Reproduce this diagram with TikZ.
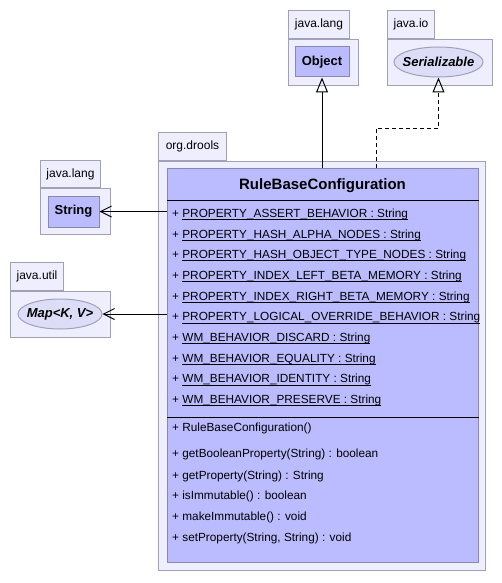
\documentclass[tikz,border=0pt]{standalone}
\usepackage{fontspec}
\setmainfont{Liberation Sans}
\usetikzlibrary{arrows.meta,shapes.geometric}
\definecolor{pkgfill}{RGB}{238,238,255}
\definecolor{pkgline}{RGB}{160,160,184}
\definecolor{clsfill}{RGB}{187,187,255}
\definecolor{clsline}{RGB}{136,136,176}
\definecolor{ifcfill}{RGB}{221,221,248}
\newcommand\statline[1]{\setbox0=\hbox{#1}\rlap{\rule[-2.7pt]{\wd0}{1pt}}\box0}
\tikzset{
  pkgbox/.style={draw=pkgline, fill=pkgfill, line width=1pt, inner sep=0, anchor=north west},
  pkgtab/.style={pkgbox, font=\fontsize{12}{14}\selectfont},
  clsbox/.style={draw=clsline, fill=clsfill, line width=1pt, inner sep=0, font=\bfseries\fontsize{13}{15}\selectfont},
  ifcbox/.style={ellipse, draw=pkgline, fill=ifcfill, line width=1pt, inner sep=0},
  ifctext/.style={font=\bfseries\itshape\fontsize{13}{15}\selectfont},
  member/.style={anchor=base west, inner sep=0, font=\fontsize{11.8}{14}\selectfont},
  extends/.style={-{Triangle[open,length=15pt,width=12pt]}, line width=1pt},
  uses/.style={-{Straight Barb[length=11pt,width=11pt]}, line width=1pt},
}
\begin{document}
\begin{tikzpicture}[x=1pt,y=-1pt]
    \useasboundingbox (0,0) rectangle (502,583);
    % packages
    \node[pkgbox, minimum width=70, minimum height=46] (langA) at (288,39) {};
    \node[pkgtab, minimum width=61, minimum height=28, anchor=south west] (langAtab) at (langA.north west) {java.lang};
    \node[pkgbox, minimum width=105, minimum height=46] (io) at (387,39) {};
    \node[pkgtab, minimum width=47, minimum height=28, anchor=south west] (iotab) at (io.north west) {java.io};
    \node[pkgbox, minimum width=327, minimum height=409] (drools) at (158,161) {};
    \node[pkgtab, minimum width=68, minimum height=28, anchor=south west] (droolstab) at (drools.north west) {org.drools};
    \node[pkgbox, minimum width=70, minimum height=46] (langB) at (40,188) {};
    \node[pkgtab, minimum width=60, minimum height=27, anchor=south west] (langBtab) at (langB.north west) {java.lang};
    \node[pkgbox, minimum width=100, minimum height=46] (util) at (10,291) {};
    \node[pkgtab, minimum width=53, minimum height=28, anchor=south west] (utiltab) at (util.north west) {java.util};
    % referenced types
    \node[clsbox, minimum width=54, minimum height=30] (obj) at (322,62) {Object};
    \node[clsbox, minimum width=51, minimum height=31] (str) at (73.5,211.5) {String};
    \node[ifcbox, minimum width=89, minimum height=30] (ser) at (438.5,62) {};
    \node[ifctext] (sertext) at (ser) {Serializable};
    \node[ifcbox, minimum width=84, minimum height=30] (map) at (60,314) {};
    \node[ifctext] (maptext) at (map) {Map<K, V>};
    % main class
    \node[clsbox, minimum width=311, minimum height=394, anchor=north west] (cls) at (167,168) {};
    \node[font=\bfseries\fontsize{15}{17}\selectfont, inner sep=0] (clsname) at (322.5,186) {RuleBaseConfiguration};
    \coordinate (sepA) at (167,200);
    \coordinate (sepB) at (167,417);
    \draw[line width=1pt] (sepA) -- (sepA -| cls.east);
    \draw[line width=1pt] (sepB) -- (sepB -| cls.east);
    \foreach \t [count=\i from 0] in {PROPERTY\_ASSERT\_BEHAVIOR, PROPERTY\_HASH\_ALPHA\_NODES,
        PROPERTY\_HASH\_OBJECT\_TYPE\_NODES, PROPERTY\_INDEX\_LEFT\_BETA\_MEMORY,
        PROPERTY\_INDEX\_RIGHT\_BETA\_MEMORY, PROPERTY\_LOGICAL\_OVERRIDE\_BEHAVIOR,
        WM\_BEHAVIOR\_DISCARD, WM\_BEHAVIOR\_EQUALITY, WM\_BEHAVIOR\_IDENTITY, WM\_BEHAVIOR\_PRESERVE}
      \node[member] (attr\i) at (172,217.3+20.7*\i) {+ \statline{\t{} : String}};
    \foreach \y/\t [count=\i] in {431/RuleBaseConfiguration(), 457.6/{getBooleanProperty(String) : boolean},
        479.3/{getProperty(String) : String}, 499.3/{isImmutable() : boolean},
        520.3/{makeImmutable() : void}, 541/{setProperty(String, String) : void}}
      \node[member] (op\i) at (172,\y) {+ \t};
    % connectors
    \draw[extends] (cls.north -| obj.south) -- (obj.south);
    \coordinate (bend) at (376,128);
    \draw[extends, dash pattern=on 4pt off 3pt] (cls.north -| bend) -- (bend) -| (ser.south);
    \draw[uses] (cls.west |- str.east) -- (str.east);
    \draw[uses] (cls.west |- map.east) -- (map.east);
\end{tikzpicture}
\end{document}
